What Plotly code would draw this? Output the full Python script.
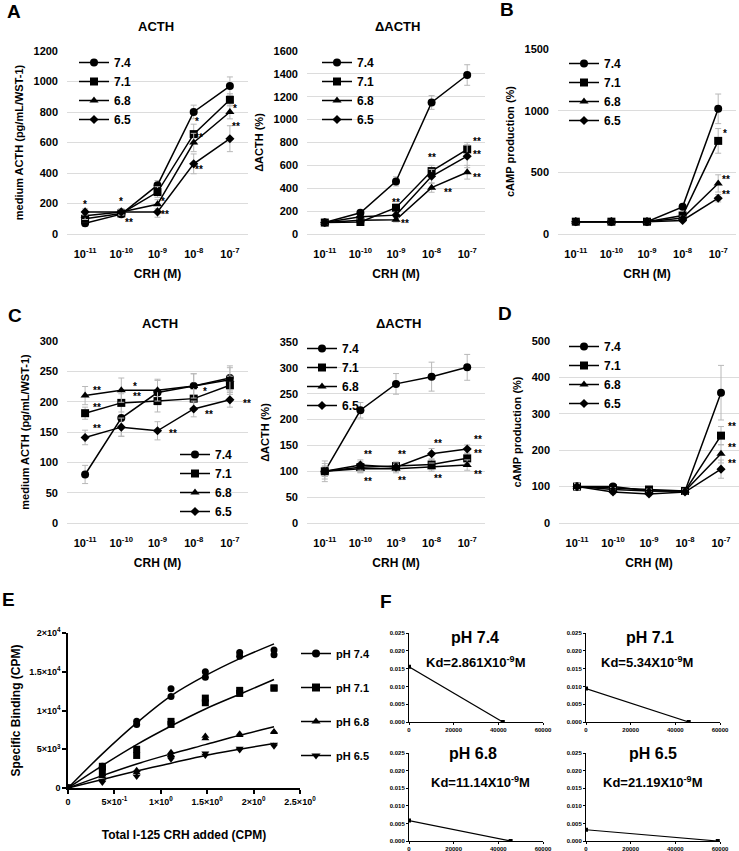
import plotly.graph_objects as go

W, H = 739, 851

# ---- shared category axis (CRH concentration) ----
crh_idx = [0, 1, 2, 3, 4]
crh_ticks = ['10<sup>-11</sup>', '10<sup>-10</sup>', '10<sup>-9</sup>', '10<sup>-8</sup>', '10<sup>-7</sup>']
ph_names = ['7.4', '7.1', '6.8', '6.5']

# ---- A: ACTH ----
a_acth_74 = [70, 130, 320, 800, 970]
a_acth_71 = [100, 135, 275, 655, 880]
a_acth_68 = [120, 145, 195, 600, 800]
a_acth_65 = [145, 145, 145, 460, 625]
a_acth_err_74 = [20, 15, 30, 45, 60]
a_acth_err_71 = [20, 15, 35, 65, 40]
a_acth_err_68 = [25, 20, 30, 60, 45]
a_acth_err_65 = [20, 20, 35, 65, 85]
a_acth_sig = [(0, 195, '*'), (1, 215, '*'), (1.2, 75, '**'), (2.15, 215, '*'), (2.2, 130, '**'),
              (3.1, 735, '*'), (3.15, 635, '**'), (3.15, 420, '**'), (4.15, 820, '*'), (4.17, 705, '**')]

# ---- A: delta ACTH ----
a_dacth_74 = [100, 185, 460, 1150, 1390]
a_dacth_71 = [100, 105, 230, 550, 740]
a_dacth_68 = [100, 120, 125, 405, 540]
a_dacth_65 = [100, 150, 165, 505, 680]
a_dacth_err_74 = [10, 15, 40, 60, 90]
a_dacth_err_71 = [10, 10, 30, 50, 60]
a_dacth_err_68 = [10, 10, 20, 40, 60]
a_dacth_err_65 = [10, 10, 20, 60, 100]
a_dacth_sig = [(2, 275, '**'), (2.25, 90, '**'), (3, 665, '**'), (3.45, 360, '**'),
               (4.27, 805, '**'), (4.27, 695, '**'), (4.27, 495, '**')]

# ---- B: cAMP ----
b_camp_74 = [100, 100, 100, 220, 1015]
b_camp_71 = [100, 100, 100, 150, 755]
b_camp_68 = [100, 100, 100, 130, 410]
b_camp_65 = [100, 100, 100, 110, 290]
b_camp_err_74 = [10, 10, 10, 20, 120]
b_camp_err_71 = [10, 10, 10, 20, 100]
b_camp_err_68 = [10, 10, 10, 15, 70]
b_camp_err_65 = [10, 10, 10, 10, 30]
b_camp_sig = [(4.2, 812, '*'), (4.22, 440, '**'), (4.22, 322, '**')]

# ---- C: ACTH ----
c_acth_74 = [80, 173, 215, 226, 239]
c_acth_71 = [181, 198, 201, 205, 227]
c_acth_68 = [210, 219, 219, 226, 236]
c_acth_65 = [141, 158, 152, 188, 203]
c_acth_err_74 = [15, 30, 20, 20, 20]
c_acth_err_71 = [10, 15, 18, 15, 15]
c_acth_err_68 = [15, 20, 18, 20, 20]
c_acth_err_65 = [12, 15, 15, 13, 12]
c_acth_sig = [(0.34, 219, '**'), (0.34, 190, '**'), (0.34, 156, '**'), (1.38, 225, '*'), (1.43, 208, '**'),
              (2.44, 148, '**'), (3.31, 216, '*'), (3.43, 179, '**'), (4.48, 197, '**')]

# ---- C: delta ACTH ----
c_dacth_74 = [100, 218, 269, 283, 301]
c_dacth_71 = [100, 108, 110, 113, 125]
c_dacth_68 = [100, 105, 105, 108, 112]
c_dacth_65 = [100, 112, 108, 134, 143]
c_dacth_err_74 = [20, 15, 20, 28, 25]
c_dacth_err_71 = [15, 10, 8, 10, 10]
c_dacth_err_68 = [10, 8, 8, 8, 10]
c_dacth_err_65 = [10, 10, 8, 10, 8]
c_dacth_sig = [(1.2, 133, '**'), (2.18, 133, '**'), (3.17, 153, '**'), (4.29, 161, '**'), (4.29, 135, '**'),
               (1.2, 80, '**'), (2.18, 82, '**'), (3.17, 87, '**'), (4.29, 93, '**')]

# ---- D: cAMP ----
d_camp_74 = [100, 100, 88, 88, 358]
d_camp_71 = [100, 95, 92, 88, 240]
d_camp_68 = [100, 92, 88, 88, 190]
d_camp_65 = [100, 85, 80, 85, 148]
d_camp_err_74 = [8, 5, 5, 5, 75]
d_camp_err_71 = [8, 5, 5, 5, 25]
d_camp_err_68 = [8, 5, 5, 5, 25]
d_camp_err_65 = [8, 5, 5, 5, 25]
d_camp_sig = [(4.3, 264, '**'), (4.3, 207, '**'), (4.3, 164, '**')]

# ---- E: saturation binding ----
e_x_pts = [0, 0, 0.37, 0.37, 0.74, 0.74, 1.11, 1.11, 1.48, 1.48, 1.85, 1.85, 2.22, 2.22]
e_pts_74 = [0, 0, 2500, 2800, 8200, 8600, 11800, 12800, 14300, 15000, 17000, 17500, 17200, 17800]
e_pts_71 = [0, 0, 2000, 2800, 4200, 5000, 8200, 8600, 11000, 11600, 12200, 12600, 12900, 12900]
e_pts_68 = [0, 0, 1500, 1700, 2000, 2300, 4300, 4600, 6400, 6700, 6800, 7000, 7200, 7300]
e_pts_65 = [0, 0, 700, 900, 1500, 2000, 3700, 3900, 4200, 4500, 4900, 5100, 5400, 5600]
e_x_fit = [0, 0.37, 0.74, 1.11, 1.48, 1.85, 2.22]
e_fit_74 = [0, 4400, 8400, 11900, 14500, 16700, 18600]
e_fit_71 = [0, 2900, 5600, 8000, 10200, 12100, 14000]
e_fit_68 = [0, 1600, 3100, 4400, 5600, 6800, 7900]
e_fit_65 = [0, 1100, 2200, 3200, 4200, 5000, 5750]
e_xticks = [0, 0.5, 1, 1.5, 2, 2.5]
e_xtick_text = ['0', '5×10<sup>-1</sup>', '1×10<sup>0</sup>', '1.5×10<sup>0</sup>', '2×10<sup>0</sup>', '2.5×10<sup>0</sup>']
e_yticks = [0, 5000, 10000, 15000, 20000]
e_ytick_text = ['0', '5×10<sup>3</sup>', '1×10<sup>4</sup>', '1.5×10<sup>4</sup>', '2×10<sup>4</sup>']

# ---- F: Scatchard ----
f_x_74 = [0, 42000]
f_y_74 = [0.0155, 0]
f_x_71 = [0, 46000]
f_y_71 = [0.0094, 0]
f_x_68 = [0, 45500]
f_y_68 = [0.0058, 0]
f_x_65 = [0, 59000]
f_y_65 = [0.0032, 0]
f_xticks = [0, 20000, 40000, 60000]
f_kd = ['Kd=2.861X10<sup>-9</sup>M', 'Kd=5.34X10<sup>-9</sup>M', 'Kd=11.14X10<sup>-9</sup>M', 'Kd=21.19X10<sup>-9</sup>M']

FONT = 'Arial, Liberation Sans, sans-serif'
symbols = ['circle', 'square', 'triangle-up', 'diamond']
msizes = [8, 8, 8, 7]


def fx(p):
    return p / W


def fy(p):
    return 1 - p / H


def paper_text(text, x, y, size):
    # text centred on a pixel position of the page
    return dict(text=text, x=fx(x), y=fy(y), xref='paper', yref='paper', xanchor='center', yanchor='middle',
                showarrow=False, font=dict(family=FONT, size=size, color='black', weight='bold'))


fig = go.Figure()
layout = {}
annotations = []

# main line panels: series, errors, sig, domain px, ymax, dtick, title, ytitle, legend pos
panels = [
    dict(vals=[a_acth_74, a_acth_71, a_acth_68, a_acth_65], errs=[a_acth_err_74, a_acth_err_71, a_acth_err_68, a_acth_err_65],
         sig=a_acth_sig, xd=(67, 248), yd=(51, 234), ymax=1200, dtick=200, title='ACTH', tpos=(156, 27),
         ytitle='medium ACTH (pg/mL/WST-1)', leg=(74, 48)),
    dict(vals=[a_dacth_74, a_dacth_71, a_dacth_68, a_dacth_65], errs=[a_dacth_err_74, a_dacth_err_71, a_dacth_err_68, a_dacth_err_65],
         sig=a_dacth_sig, xd=(307, 485), yd=(51, 234), ymax=1600, dtick=200, title='ΔACTH', tpos=(397, 27),
         ytitle='ΔACTH (%)', leg=(317, 48)),
    dict(vals=[b_camp_74, b_camp_71, b_camp_68, b_camp_65], errs=[b_camp_err_74, b_camp_err_71, b_camp_err_68, b_camp_err_65],
         sig=b_camp_sig, xd=(558, 736), yd=(49, 234), ymax=1500, dtick=500, title=None, tpos=None,
         ytitle='cAMP production (%)', leg=(564, 49)),
    dict(vals=[c_acth_74, c_acth_71, c_acth_68, c_acth_65], errs=[c_acth_err_74, c_acth_err_71, c_acth_err_68, c_acth_err_65],
         sig=c_acth_sig, xd=(67, 248), yd=(341, 523), ymax=300, dtick=50, title='ACTH', tpos=(160, 323),
         ytitle='medium ACTH (pg/mL/WST-1)', leg=(175, 440)),
    dict(vals=[c_dacth_74, c_dacth_71, c_dacth_68, c_dacth_65], errs=[c_dacth_err_74, c_dacth_err_71, c_dacth_err_68, c_dacth_err_65],
         sig=c_dacth_sig, xd=(307, 485), yd=(342, 523), ymax=350, dtick=50, title='ΔACTH', tpos=(398, 323),
         ytitle='ΔACTH (%)', leg=(302, 334)),
    dict(vals=[d_camp_74, d_camp_71, d_camp_68, d_camp_65], errs=[d_camp_err_74, d_camp_err_71, d_camp_err_68, d_camp_err_65],
         sig=d_camp_sig, xd=(559, 739), yd=(341, 523), ymax=500, dtick=100, title=None, tpos=None,
         ytitle='cAMP production (%)', leg=(564, 332)),
]

tick_font = dict(family=FONT, size=11, color='black', weight='bold')

for i, p in enumerate(panels):
    n = i + 1
    sfx = '' if n == 1 else str(n)
    leg = 'legend' if n == 1 else f'legend{n}'
    for k in range(4):
        fig.add_trace(go.Scatter(
            x=crh_idx, y=p['vals'][k], mode='lines+markers', name=ph_names[k],
            line=dict(color='black', width=1.5),
            marker=dict(symbol=symbols[k], size=msizes[k], color='black'),
            error_y=dict(type='data', array=p['errs'][k], color='#b8b8b8', thickness=1, width=3),
            xaxis=f'x{sfx}', yaxis=f'y{sfx}', legend=leg, hoverinfo='skip'
        ))
    layout[f'xaxis{sfx}'] = dict(
        domain=[fx(p['xd'][0]), fx(p['xd'][1])], range=[-0.5, 4.5], anchor=f'y{sfx}', automargin=False,
        tickvals=crh_idx, ticktext=crh_ticks, showgrid=False, zeroline=False, showline=False,
        ticks='', ticklabelstandoff=12, tickfont=tick_font,
        title=dict(text='CRH (M)', font=dict(family=FONT, size=12, color='black', weight='bold'), standoff=10))
    layout[f'yaxis{sfx}'] = dict(
        domain=[fy(p['yd'][1]), fy(p['yd'][0])], range=[0, p['ymax']], dtick=p['dtick'], anchor=f'x{sfx}',
        automargin=False, showgrid=True, gridcolor='#dcdcdc', gridwidth=1,
        zeroline=True, zerolinecolor='#dcdcdc', zerolinewidth=1,
        showline=False, ticks='', ticklabelstandoff=8, tickfont=tick_font,
        title=dict(text=p['ytitle'], font=dict(family=FONT, size=11, color='black', weight='bold'), standoff=7))
    layout[leg] = dict(
        x=fx(p['leg'][0]), y=fy(p['leg'][1]), xanchor='left', yanchor='top', bgcolor='rgba(0,0,0,0)',
        font=dict(family=FONT, size=12, color='black', weight='bold'), itemwidth=30)
    if p['title']:
        annotations.append(paper_text(p['title'], p['tpos'][0], p['tpos'][1], 13))
    for (sx, sy, st) in p['sig']:
        annotations.append(dict(text=st, x=sx, y=sy, xref=f'x{sfx}', yref=f'y{sfx}', showarrow=False,
                                xanchor='center', yanchor='middle',
                                font=dict(family=FONT, size=10, color='black', weight='bold')))

# ---- E panel ----
e_pts = [e_pts_74, e_pts_71, e_pts_68, e_pts_65]
e_fit = [e_fit_74, e_fit_71, e_fit_68, e_fit_65]
e_symbols = ['circle', 'square', 'triangle-up', 'triangle-down']
e_names = ['pH 7.4', 'pH 7.1', 'pH 6.8', 'pH 6.5']
for k in range(4):
    fig.add_trace(go.Scatter(x=e_x_fit, y=e_fit[k], mode='lines', line=dict(color='black', width=1.5, shape='spline'),
                             xaxis='x7', yaxis='y7', showlegend=False, hoverinfo='skip'))
    fig.add_trace(go.Scatter(x=e_x_pts, y=e_pts[k], mode='markers',
                             marker=dict(symbol=e_symbols[k], size=7, color='black'),
                             xaxis='x7', yaxis='y7', showlegend=False, hoverinfo='skip'))
    # dummy trace for the legend
    fig.add_trace(go.Scatter(x=[None], y=[None], mode='lines+markers', name=e_names[k],
                             line=dict(color='black', width=1.5), marker=dict(symbol=e_symbols[k], size=8, color='black'),
                             xaxis='x7', yaxis='y7', legend='legend7', legendgroup=e_names[k]))

e_tick_font = dict(family=FONT, size=9, color='black', weight='bold')
layout['xaxis7'] = dict(domain=[fx(68), fx(300)], range=[0, 2.5], anchor='y7', automargin=False,
                        tickvals=e_xticks, ticktext=e_xtick_text,
                        showgrid=False, zeroline=False, showline=True, linecolor='black', linewidth=1.5,
                        ticks='outside', ticklen=4, tickwidth=1.5, tickcolor='black', tickfont=e_tick_font,
                        title=dict(text='Total I-125 CRH added (CPM)', standoff=25,
                                   font=dict(family=FONT, size=12, color='black', weight='bold')))
layout['yaxis7'] = dict(domain=[fy(788), fy(633)], range=[0, 20000], anchor='x7', automargin=False,
                        tickvals=e_yticks, ticktext=e_ytick_text,
                        showgrid=False, zeroline=False, showline=True, linecolor='black', linewidth=1.5,
                        ticks='outside', ticklen=4, tickwidth=1.5, tickcolor='black', tickfont=e_tick_font,
                        title=dict(text='Specific Binding (CPM)', standoff=6,
                                   font=dict(family=FONT, size=12, color='black', weight='bold')))
layout['legend7'] = dict(x=fx(296), y=fy(639), xanchor='left', yanchor='top', bgcolor='rgba(0,0,0,0)', tracegroupgap=15,
                         font=dict(family=FONT, size=11, color='black', weight='bold'), itemwidth=30)

# ---- F panels ----
f_xs = [f_x_74, f_x_71, f_x_68, f_x_65]
f_ys = [f_y_74, f_y_71, f_y_68, f_y_65]
f_xd = [(409, 543), (586, 720), (409, 543), (586, 720)]
f_yd = [(633, 722), (633, 722), (753, 841), (753, 841)]
f_title_pos = [(475, 637), (650, 637), (473, 753), (653, 753)]
f_kd_pos = [(476, 662), (647, 662), (480, 782), (653, 782)]
f_tick_font = dict(family=FONT, size=6, color='black', weight='bold')
for k in range(4):
    n = 8 + k
    fig.add_trace(go.Scatter(x=f_xs[k], y=f_ys[k], mode='lines+markers', line=dict(color='black', width=1.2),
                             marker=dict(symbol='square', size=4, color='black'),
                             xaxis=f'x{n}', yaxis=f'y{n}', showlegend=False, hoverinfo='skip'))
    layout[f'xaxis{n}'] = dict(domain=[fx(f_xd[k][0]), fx(f_xd[k][1])], range=[0, 60000], anchor=f'y{n}',
                               automargin=False, tickvals=f_xticks, tickformat='d', showgrid=False, zeroline=False,
                               showline=True, linecolor='black', linewidth=1, ticks='outside', ticklen=2,
                               tickcolor='black', tickfont=f_tick_font)
    layout[f'yaxis{n}'] = dict(domain=[fy(f_yd[k][1]), fy(f_yd[k][0])], range=[0, 0.025], anchor=f'x{n}',
                               automargin=False, dtick=0.005, tickformat='.3f', showgrid=False, zeroline=False,
                               showline=True, linecolor='black', linewidth=1, ticks='outside', ticklen=2,
                               tickcolor='black', tickfont=f_tick_font)
    annotations.append(paper_text(e_names[k], f_title_pos[k][0], f_title_pos[k][1], 16))
    annotations.append(paper_text(f_kd[k], f_kd_pos[k][0], f_kd_pos[k][1], 13))

# panel letters
for letter, (lx, ly) in zip('ABCDEF', [(14, 11), (507, 10), (15, 315), (505, 313), (8, 599), (386, 601)]):
    annotations.append(paper_text(letter, lx, ly, 19))

fig.update_layout(**layout)
fig.update_layout(
    width=W, height=H, margin=dict(l=0, r=0, t=0, b=0),
    paper_bgcolor='white', plot_bgcolor='white',
    annotations=annotations, font=dict(family=FONT, color='black'),
)

# drop the browser's default page margin so the figure sits at the window origin
fig.write_html("out.html", config={'displayModeBar': False},
               post_script="document.body.style.margin='0px';")
